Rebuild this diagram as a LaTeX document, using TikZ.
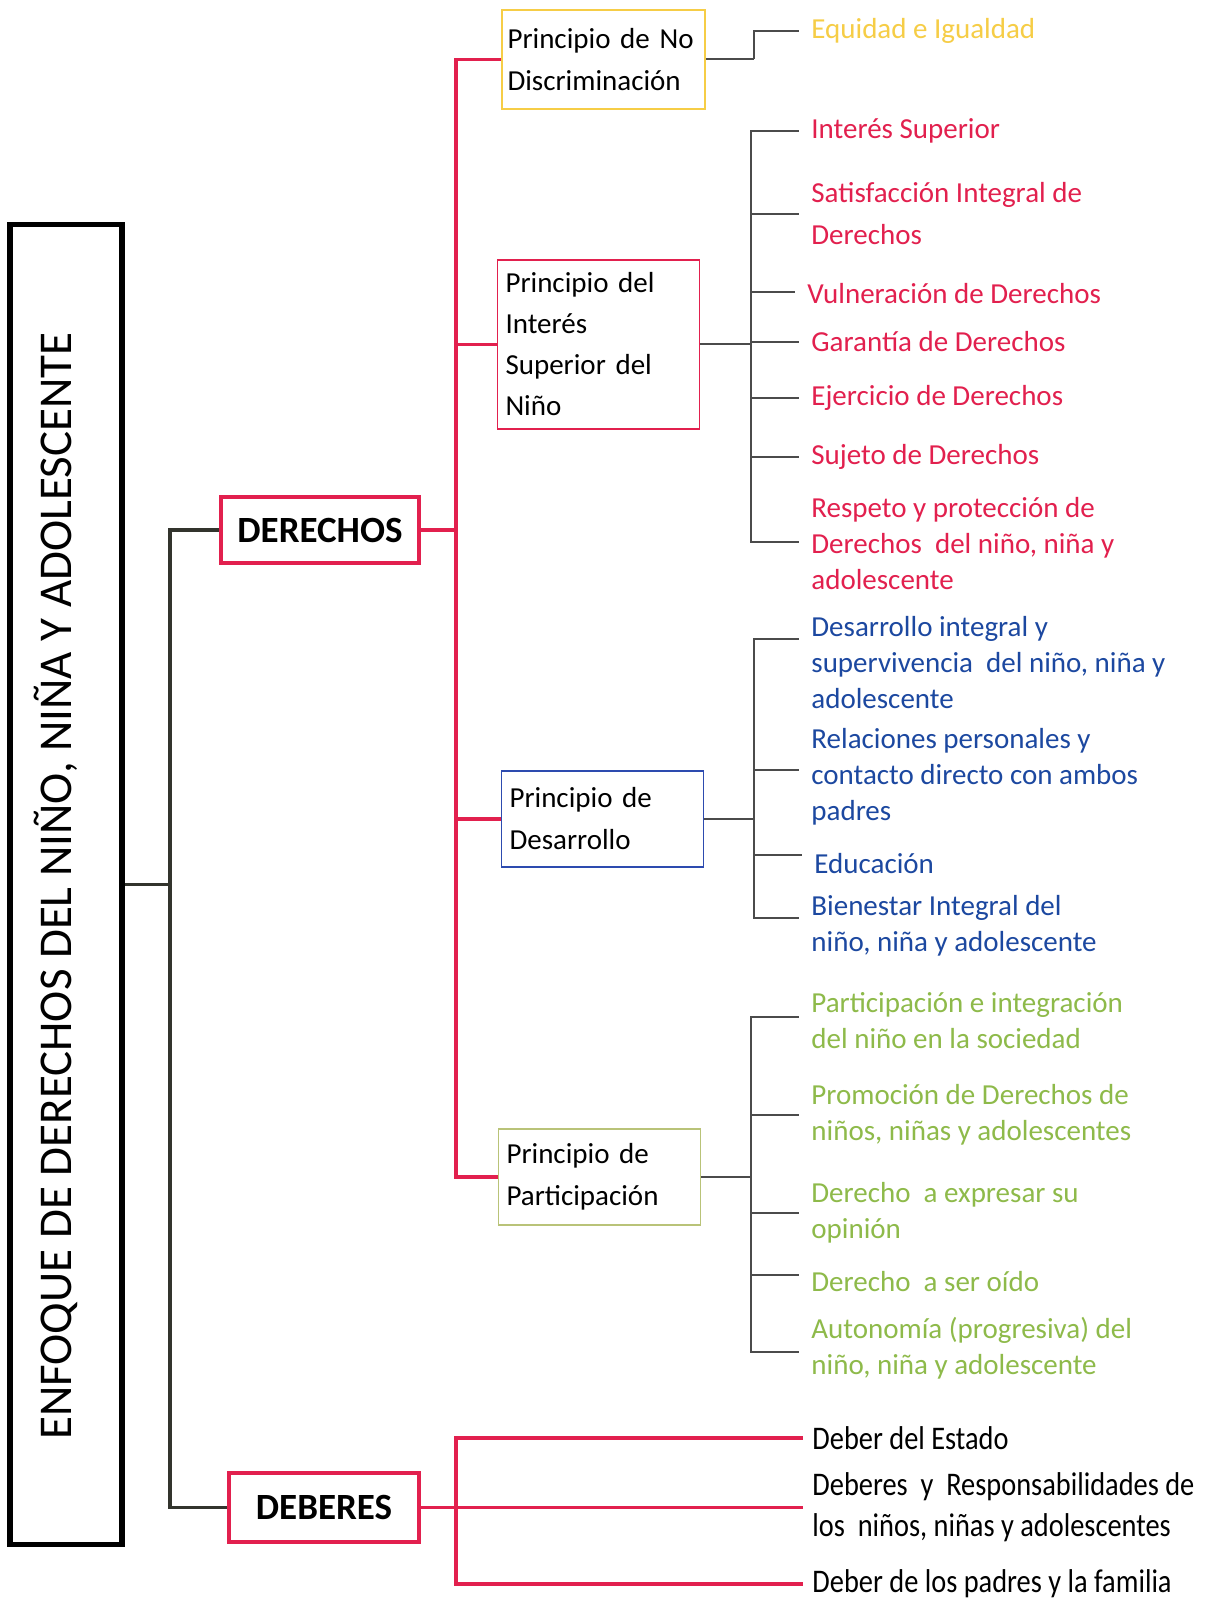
\documentclass[tikz,border=0pt]{standalone}
\usepackage{fontspec}
\setmainfont{Carlito}
\newfontfamily\narrowfont[FakeStretch=0.86]{Carlito}
\usetikzlibrary{positioning}
\definecolor{rojo}{RGB}{226,32,78}
\definecolor{amarillo}{RGB}{246,205,70}
\definecolor{azul}{RGB}{28,72,160}
\definecolor{azulbox}{RGB}{45,75,175}
\definecolor{verde}{RGB}{142,186,74}
\definecolor{oliva}{RGB}{185,195,120}
\definecolor{gris}{RGB}{75,75,75}
\definecolor{negro}{RGB}{50,52,45}

\begin{document}
\begin{tikzpicture}[x=0.5pt, y=-0.5pt,
  main node/.style={draw=rojo, line width=2pt, minimum width=99pt, minimum height=33pt,
    font=\fontsize{18.5}{22}\selectfont\bfseries},
  principio/.style={draw, line width=0.8pt, align=left, text width=93pt, inner xsep=4pt,
    font=\fontsize{14.5}{21}\selectfont},
  item/.style={anchor=west, align=left, inner xsep=6pt, inner ysep=0pt,
    font=\fontsize{14.5}{18}\selectfont},
  deber/.style={anchor=west, align=left, inner xsep=4.5pt, inner ysep=0pt,
    font=\narrowfont\fontsize{16.5}{20.5}\selectfont},
  rama/.style={gris, line width=1pt},
  tronco/.style={rojo, line width=1.7pt},
  tronco negro/.style={negro, line width=1.8pt}]
  \fill[white] (0,0) rectangle (1224,1599);
  \useasboundingbox (0,0) rectangle (1224,1599);

  % caja del enfoque
  \node[draw=black, line width=2.6pt, minimum width=56pt, minimum height=660pt] (enfoque) at (66,884.5) {};
  \node[rotate=90, font=\fontsize{23.5}{28}\selectfont] (enfoquetxt) at (56,886) {ENFOQUE DE DERECHOS DEL NIÑO, NIÑA Y ADOLESCENTE};

  \node[main node] (derechos) at (320,530) {DERECHOS};
  \node[main node, minimum width=95pt, minimum height=34.5pt] (deberes) at (324,1507.5) {DEBERES};

  \coordinate (t0) at (170,884.5);
  \draw[tronco negro] (enfoque.east) -- (t0);
  \draw[tronco negro] (t0) |- (derechos.west);
  \draw[tronco negro] (t0) |- (deberes.west);

  % principios
  \node[principio, draw=amarillo, minimum height=49.5pt, text width=96pt, inner xsep=2.75pt] (pnd) at (603.5,59.5) {Principio de No\\Discriminación};
  \node[principio, draw=rojo, minimum height=84.5pt, font=\fontsize{14.5}{20.5}\selectfont] (pis) at (598.5,344.5) {Principio del\\Interés\\Superior del\\Niño};
  \node[principio, draw=azulbox, minimum height=48pt] (pdes) at (602.5,819) {Principio de\\Desarrollo};
  \node[principio, draw=oliva, minimum height=48pt] (ppar) at (599.5,1177) {Principio de\\Participación};

  \coordinate (r0) at (456,530);
  \draw[tronco] (derechos.east) -- (r0);
  \draw[tronco] (r0) |- (pnd.west);
  \draw[tronco] (r0) |- (pis.west);
  \draw[tronco] (r0) |- (pdes.west);
  \draw[tronco] (r0) |- (ppar.west);

  % no discriminacion
  \node[item, text=amarillo] (equidad) at (799,31) {Equidad e Igualdad};
  \coordinate (bnd) at (754,59.5);
  \draw[rama] (pnd.east) -- (bnd);
  \draw[rama] (bnd) |- (equidad.west);

  % interes superior
  \node[item, text=rojo] (interes) at (799,131) {Interés Superior};
  \node[item, text=rojo, font=\fontsize{14.5}{21}\selectfont] (satisf) at (799,214) {Satisfacción Integral de\\Derechos};
  \node[item, text=rojo] (vulner) at (795,294) {Vulneración de Derechos};
  \node[item, text=rojo] (garant) at (799,342) {Garantía de Derechos};
  \node[item, text=rojo] (ejerc) at (799,398) {Ejercicio de Derechos};
  \node[item, text=rojo] (sujeto) at (799,457) {Sujeto de Derechos};
  \node[item, text=rojo] (respeto) at (799,544) {Respeto y protección de\\Derechos\ \ del niño, niña y\\adolescente};
  \coordinate (bis) at (751,344.5);
  \draw[rama] (pis.east) -- (bis);
  \draw[rama] (bis) |- (interes.west);
  \draw[rama] (bis) |- (satisf.west);
  \draw[rama] (bis) |- ([yshift=1pt]vulner.west);
  \draw[rama] (bis) |- (garant.west);
  \draw[rama] (bis) |- (ejerc.west);
  \draw[rama] (bis) |- (sujeto.west);
  \draw[rama] (bis) |- ([yshift=1pt]respeto.west);

  % desarrollo
  \node[item, text=azul] (desint) at (799,663) {Desarrollo integral y\\supervivencia\ \ del niño, niña y\\adolescente};
  \node[item, text=azul] (relac) at (799,777) {Relaciones personales y\\contacto directo con ambos\\padres};
  \node[item, text=azul] (educ) at (802,864) {Educación};
  \node[item, text=azul] (bienes) at (799,926) {Bienestar Integral del\\niño, niña y adolescente};
  \coordinate (bdes) at (754,819);
  \draw[rama] (pdes.east) -- (bdes);
  \draw[rama] (bdes) |- ([yshift=12pt]desint.west);
  \draw[rama] (bdes) |- ([yshift=3.5pt]relac.west);
  \draw[rama] (bdes) |- ([yshift=4.5pt]educ.west);
  \draw[rama] (bdes) |- ([yshift=4pt]bienes.west);

  % participacion
  \node[item, text=verde] (partic) at (799,1021) {Participación e integración\\del niño en la sociedad};
  \node[item, text=verde] (promoc) at (799,1115) {Promoción de Derechos de\\niños, niñas y adolescentes};
  \node[item, text=verde] (expres) at (799,1213) {Derecho\ \ a expresar su\\opinión};
  \node[item, text=verde] (oido) at (799,1282) {Derecho\ \ a ser oído};
  \node[item, text=verde] (autonom) at (799,1348) {Autonomía (progresiva) del\\niño, niña y adolescente};
  \coordinate (bpar) at (751,1177);
  \draw[rama] (ppar.east) -- (bpar);
  \draw[rama] (bpar) |- ([yshift=2pt]partic.west);
  \draw[rama] (bpar) |- (promoc.west);
  \draw[rama] (bpar) |- (expres.west);
  \draw[rama] (bpar) |- ([yshift=3.5pt]oido.west);
  \draw[rama] (bpar) |- ([yshift=-2pt]autonom.west);

  % deberes
  \node[deber] (destado) at (803,1438) {Deber del Estado};
  \node[deber] (dninos) at (803,1507.5) {Deberes\ \ y\ \ Responsabilidades de\\los\ \ niños, niñas y adolescentes};
  \node[deber] (dpadres) at (803,1584) {Deber de los padres y la familia};
  \coordinate (d0) at (456,1507.5);
  \draw[tronco] (deberes.east) -- (d0);
  \draw[tronco] (d0) |- (destado.west);
  \draw[tronco] (d0) -- (dninos.west);
  \draw[tronco] (d0) |- (dpadres.west);
\end{tikzpicture}
\end{document}
